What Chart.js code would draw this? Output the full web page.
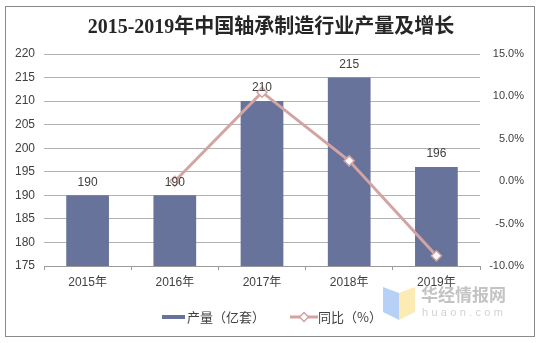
<!DOCTYPE html>
<html><head><meta charset="utf-8">
<script src="https://cdn.jsdelivr.net/npm/chart.js@4/dist/chart.umd.min.js"></script>
<style>html,body{margin:0;padding:0;background:#fff;}#wrap{width:540px;height:343px;}</style>
</head><body><div id="wrap"><canvas id="c" width="540" height="343"></canvas></div>
<script>
const titleText = '2015-2019年中国轴承制造行业产量及增长';
const categories = ['2015年', '2016年', '2017年', '2018年', '2019年'];
const outputName = '产量（亿套）';
const output = [190, 190, 210, 215, 196];
const yoyName = '同比（%）';
const yoy = [null, 0, 10.5, 2.4, -8.8];
const leftAxis = [175, 220, 5];
const rightAxis = [-10, 15, 5];

const BAR = '#68739b', LINE = '#d4a3a3', TXT = '#404040', GRID = '#b2b2b2';
const SANS = "'Liberation Sans', Arial, 'Noto Sans CJK SC', sans-serif";

const deco = {
  id: 'deco',
  beforeDraw(chart) {
    const c = chart.ctx;
    c.save();
    c.fillStyle = '#fff';
    c.fillRect(0, 0, chart.width, chart.height);
    c.strokeStyle = '#8a8a8a';
    c.lineWidth = 1;
    c.strokeRect(5.5, 6.5, 529, 330);
    c.restore();
  },
  afterDatasetsDraw(chart) {
    const c = chart.ctx;
    const meta = chart.getDatasetMeta(1);
    c.save();
    c.font = '12px ' + SANS;
    c.fillStyle = TXT;
    c.textAlign = 'center';
    c.textBaseline = 'middle';
    meta.data.forEach((el, i) => {
      c.fillText(String(chart.data.datasets[1].data[i]), el.x, el.y - 13);
    });
    c.restore();
  },
  afterDraw(chart) {
    const c = chart.ctx;
    c.save();
    // title
    c.font = "bold 20px 'Liberation Serif', 'Noto Sans CJK SC', serif";
    c.fillStyle = '#262626';
    c.textAlign = 'center';
    c.textBaseline = 'middle';
    c.fillText(titleText, 271, 28);
    // legend
    c.textAlign = 'left';
    c.font = "13px 'Noto Sans CJK SC', sans-serif";
    c.fillStyle = BAR;
    c.fillRect(162, 315, 23, 4);
    c.fillStyle = TXT;
    c.fillText(outputName, 187, 317);
    c.strokeStyle = LINE;
    c.lineWidth = 3;
    c.beginPath(); c.moveTo(290, 317); c.lineTo(318, 317); c.stroke();
    c.lineWidth = 1.5;
    c.fillStyle = '#fff';
    c.beginPath();
    c.moveTo(304, 312.5); c.lineTo(308.5, 317); c.lineTo(304, 321.5); c.lineTo(299.5, 317); c.closePath();
    c.fill(); c.stroke();
    c.fillStyle = TXT;
    c.fillText(yoyName, 318, 317);
    // watermark
    c.globalAlpha = 0.85;
    c.fillStyle = '#a9c9f3';
    c.beginPath(); c.moveTo(383, 287); c.lineTo(399, 293); c.lineTo(399, 320); c.lineTo(383, 312); c.closePath(); c.fill();
    c.fillStyle = '#fbe8a6';
    c.beginPath(); c.moveTo(399, 293); c.lineTo(415, 287); c.lineTo(415, 312); c.lineTo(399, 320); c.closePath(); c.fill();
    c.globalAlpha = 1;
    c.fillStyle = 'rgba(170,170,170,0.7)';
    c.font = "bold 17px 'Noto Sans CJK SC', sans-serif";
    c.fillText('华经情报网', 421, 295);
    c.fillStyle = 'rgba(190,190,190,0.7)';
    c.font = "11px " + SANS;
    if ('letterSpacing' in c) c.letterSpacing = '3.3px';
    c.fillText('huaon.com', 422, 313);
    c.restore();
  }
};

new Chart(document.getElementById('c'), {
  data: {
    labels: categories,
    datasets: [
      {
        type: 'line', label: yoyName, data: yoy, yAxisID: 'y2', order: 0,
        borderColor: LINE, borderWidth: 3, tension: 0, spanGaps: false,
        pointStyle: 'rectRot', pointRadius: 5, pointHoverRadius: 5,
        pointBackgroundColor: '#fff', pointBorderColor: LINE, pointBorderWidth: 1.5
      },
      {
        type: 'bar', label: outputName, data: output, yAxisID: 'y', order: 1,
        backgroundColor: BAR, barPercentage: 0.49, categoryPercentage: 1
      }
    ]
  },
  options: {
    responsive: false, animation: false, devicePixelRatio: 1,
    layout: { padding: { top: 54, left: 0, right: 16, bottom: 0 } },
    plugins: { legend: { display: false }, title: { display: false }, tooltip: { enabled: false } },
    scales: {
      x: {
        type: 'category', offset: true,
        grid: { offset: true, drawOnChartArea: false, drawTicks: true, tickLength: 4, color: '#9a9a9a' },
        border: { display: true, color: '#9a9a9a' },
        ticks: { font: { size: 12, family: SANS }, color: TXT, padding: 5, maxRotation: 0, autoSkip: false },
        afterFit: s => { s.height = 77; }
      },
      y: {
        position: 'left', min: leftAxis[0], max: leftAxis[1],
        ticks: { stepSize: leftAxis[2], padding: 9, font: { size: 12, family: SANS }, color: TXT },
        grid: { color: GRID, drawTicks: false },
        border: { display: false },
        afterFit: s => { s.width = 44; }
      },
      y2: {
        position: 'right', min: rightAxis[0], max: rightAxis[1],
        ticks: { stepSize: rightAxis[2], padding: 9, crossAlign: 'far', font: { size: 11, family: SANS }, color: TXT,
          callback: v => v.toFixed(1) + '%' },
        grid: { display: false, drawTicks: false },
        border: { display: false },
        afterFit: s => { s.width = 44; }
      }
    }
  },
  plugins: [deco]
});
</script>
</body></html>
